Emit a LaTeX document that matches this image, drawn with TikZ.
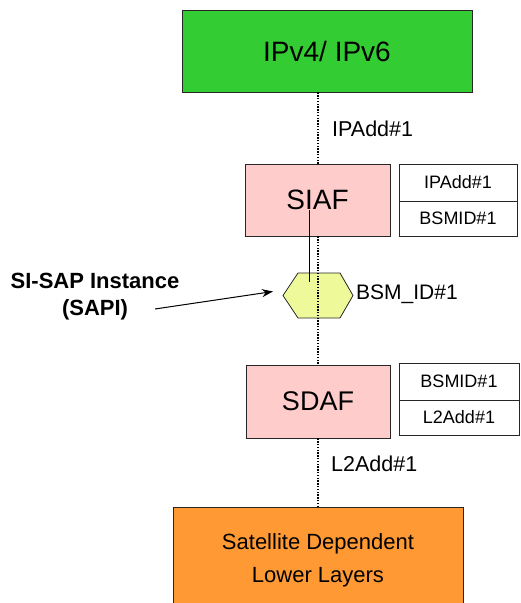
\documentclass[tikz,border=0pt]{standalone}
\usepackage{fontspec}
\setmainfont{Liberation Sans}
\usetikzlibrary{arrows.meta}
\definecolor{ipgreen}{HTML}{33CC33}
\definecolor{afpink}{HTML}{FFCCCC}
\definecolor{hexyellow}{HTML}{EEFA9A}
\definecolor{llorange}{HTML}{FF9933}
\tikzset{
  box/.style={draw=black!85, line width=0.8pt, inner sep=0pt, align=center},
  cell/.style={draw=black!85, line width=0.8pt, fill=white, inner sep=0pt, font=\fontsize{18}{21}\selectfont},
  lbl/.style={inner sep=0pt, font=\fontsize{21.5}{25}\selectfont},
  dotline/.style={line width=1.6pt, dash pattern=on 1.4pt off 1.4pt},
}
\begin{document}
\begin{tikzpicture}[x=1pt,y=-1pt]
\useasboundingbox (0,0) rectangle (521,603);
\clip (0,0) rectangle (521,603);
% boxes
\node[box, fill=ipgreen, minimum width=290pt, minimum height=82pt, font=\fontsize{28}{32}\selectfont] (ip) at (327,51) {IPv4/ IPv6};
\node[box, fill=afpink, minimum width=145pt, minimum height=72pt, font=\fontsize{28}{32}\selectfont] (siaf) at (317.5,200) {SIAF};
\node[box, fill=afpink, minimum width=144pt, minimum height=73pt, font=\fontsize{27}{32}\selectfont] (sdaf) at (318,401.5) {SDAF};
\node[box, fill=llorange, minimum width=290pt, minimum height=113pt, anchor=north] (ll) at (318,507) {};
\node[inner sep=0pt, align=center, font=\fontsize{22}{33}\selectfont] (lltxt) at (318,560) {Satellite Dependent\\Lower Layers};
% tables
\node[cell, minimum width=118pt, minimum height=37pt] (t1a) at (458,182.5) {IPAdd\#1};
\node[cell, minimum width=118pt, minimum height=35pt] (t1b) at (458,218.5) {BSMID\#1};
\node[cell, minimum width=120pt, minimum height=37pt] (t2a) at (459,381.5) {BSMID\#1};
\node[cell, minimum width=120pt, minimum height=35pt] (t2b) at (459,417.5) {L2Add\#1};
% dotted connectors
\draw[dotline] (ip.south -| 318,0) -- (siaf.north -| 318,0);
\draw[dotline] (sdaf.south) -- (ll.north);
% hexagon
\coordinate (hex) at (318,295.5);
\draw[line width=0.8pt, draw=black!85, fill=hexyellow]
  (283,295.5) -- (298,273) -- (340,273) -- (353,295.5) -- (340,318) -- (298,318) -- cycle;
\draw[dotline] (siaf.south -| 318,0) -- (sdaf.north);
% solid line from SIAF to hexagon
\coordinate (s1) at (309.5,210);
\coordinate (s2) at (309.5,282);
\draw[line width=1pt] (s1) -- (s2);
% labels
\node[lbl, anchor=west] (lipadd) at (332,129) {IPAdd\#1};
\node[lbl, anchor=west] (ll2add) at (331,463.5) {L2Add\#1};
\node[lbl, anchor=west, font=\fontsize{21}{24}\selectfont] (bsm) at (356,294) {BSM\_ID\#1};
\node[inner sep=0pt, align=center, font=\bfseries\fontsize{22}{27}\selectfont] (sapi) at (95,297) {SI-SAP Instance\\(SAPI)};
\coordinate (arrs) at (155,309);
\coordinate (arre) at (273,291.5);
\draw[line width=1pt, -{Stealth[length=11pt,width=8pt]}] (arrs) -- (arre);
\end{tikzpicture}
\end{document}
